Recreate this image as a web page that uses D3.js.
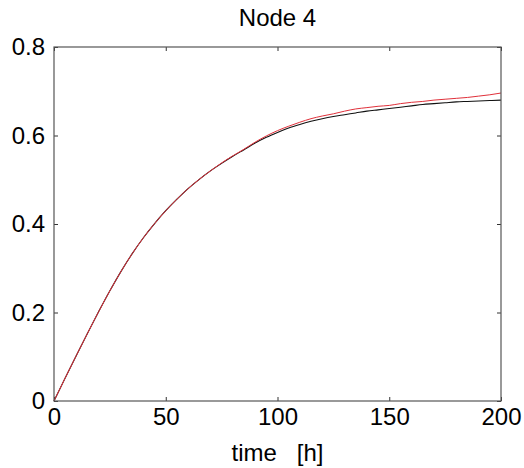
<!DOCTYPE html>
<html>
<head>
<meta charset="utf-8">
<script src="https://cdn.jsdelivr.net/npm/d3@7"></script>
<style>
  body { margin: 0; background: #fff; }
  text { font-family: "Liberation Sans", Arial, sans-serif; fill: #000; }
</style>
</head>
<body>
<div id="chart"></div>
<script>
// time axis (hours)
const timeH = [0, 5, 10, 15, 20, 25, 30, 35, 40, 45, 50, 55, 60, 65, 70, 75, 80, 85, 90, 95,
  100, 105, 110, 115, 120, 125, 130, 135, 140, 145, 150, 155, 160, 165, 170, 175, 180, 185, 190, 195, 200];

// black curve
const blackVals = [0, 0.052, 0.103, 0.153, 0.202, 0.249, 0.293, 0.333, 0.369, 0.401, 0.43, 0.456, 0.48, 0.501,
  0.52, 0.537, 0.553, 0.568, 0.583, 0.596, 0.607, 0.617, 0.625, 0.632, 0.638, 0.643, 0.647, 0.651, 0.655,
  0.658, 0.661, 0.664, 0.667, 0.670, 0.672, 0.674, 0.676, 0.677, 0.678, 0.679, 0.68];

// red curve
const redVals = [0, 0.052, 0.103, 0.153, 0.202, 0.249, 0.293, 0.333, 0.369, 0.401, 0.43, 0.456, 0.48, 0.501,
  0.52, 0.538, 0.554, 0.569, 0.585, 0.599, 0.611, 0.621, 0.630, 0.638, 0.644, 0.649, 0.655, 0.660, 0.663,
  0.666, 0.668, 0.672, 0.675, 0.677, 0.680, 0.682, 0.684, 0.686, 0.689, 0.692, 0.696];

const xTicks = [0, 50, 100, 150, 200];
const yTicks = [0, 0.2, 0.4, 0.6, 0.8];

const W = 524, H = 468;
const margin = {top: 47, right: 23, bottom: 67, left: 54};
const width = W - margin.left - margin.right;
const height = H - margin.top - margin.bottom;

const svg = d3.select("#chart").append("svg")
    .attr("width", W)
    .attr("height", H);

const g = svg.append("g")
    .attr("transform", "translate(" + margin.left + "," + margin.top + ")");

const x = d3.scaleLinear().domain([0, 200]).range([0, width]);
const y = d3.scaleLinear().domain([0, 0.8]).range([height, 0]);

// axes, ticks pointing inward (matlab style)
const fmt = d => d === 0 ? "0" : d3.format(".1f")(d);

function styleAxis(sel) {
  sel.select(".domain").remove();
  sel.selectAll(".tick line").attr("stroke", "#333");
  sel.selectAll(".tick text").style("font-size", "24px");
}

g.append("g")
    .attr("transform", "translate(0," + height + ")")
    .call(d3.axisBottom(x).tickValues(xTicks).tickSizeInner(-4).tickPadding(7).tickFormat(d3.format("d")))
    .call(styleAxis);

g.append("g")
    .call(d3.axisTop(x).tickValues(xTicks).tickSizeInner(-4).tickFormat(""))
    .call(styleAxis);

g.append("g")
    .call(d3.axisLeft(y).tickValues(yTicks).tickSizeInner(-4).tickPadding(9).tickFormat(fmt))
    .call(styleAxis);

g.append("g")
    .attr("transform", "translate(" + width + ",0)")
    .call(d3.axisRight(y).tickValues(yTicks).tickSizeInner(-4).tickFormat(""))
    .call(styleAxis);

const line = d3.line()
    .x((d, i) => x(timeH[i]))
    .y(d => y(d))
    .curve(d3.curveMonotoneX);

g.append("path")
    .datum(blackVals)
    .attr("fill", "none")
    .attr("stroke", "#111")
    .attr("stroke-width", 1.1)
    .attr("d", line);

g.append("path")
    .datum(redVals)
    .attr("fill", "none")
    .attr("stroke", "#e0303a")
    .attr("stroke-width", 1)
    .attr("d", line);

// frame
g.append("rect")
    .attr("width", width)
    .attr("height", height)
    .attr("fill", "none")
    .attr("stroke", "#555")
    .attr("stroke-width", 1.2);

// title and axis label
svg.append("text")
    .attr("x", margin.left + width / 2)
    .attr("y", 26)
    .attr("text-anchor", "middle")
    .style("font-size", "24px")
    .text("Node 4");

svg.append("text")
    .attr("x", margin.left + width / 2)
    .attr("y", 461)
    .attr("text-anchor", "middle")
    .style("font-size", "24px")
    .attr("xml:space", "preserve")
    .style("white-space", "pre")
    .text("time   [h]");
</script>
</body>
</html>
